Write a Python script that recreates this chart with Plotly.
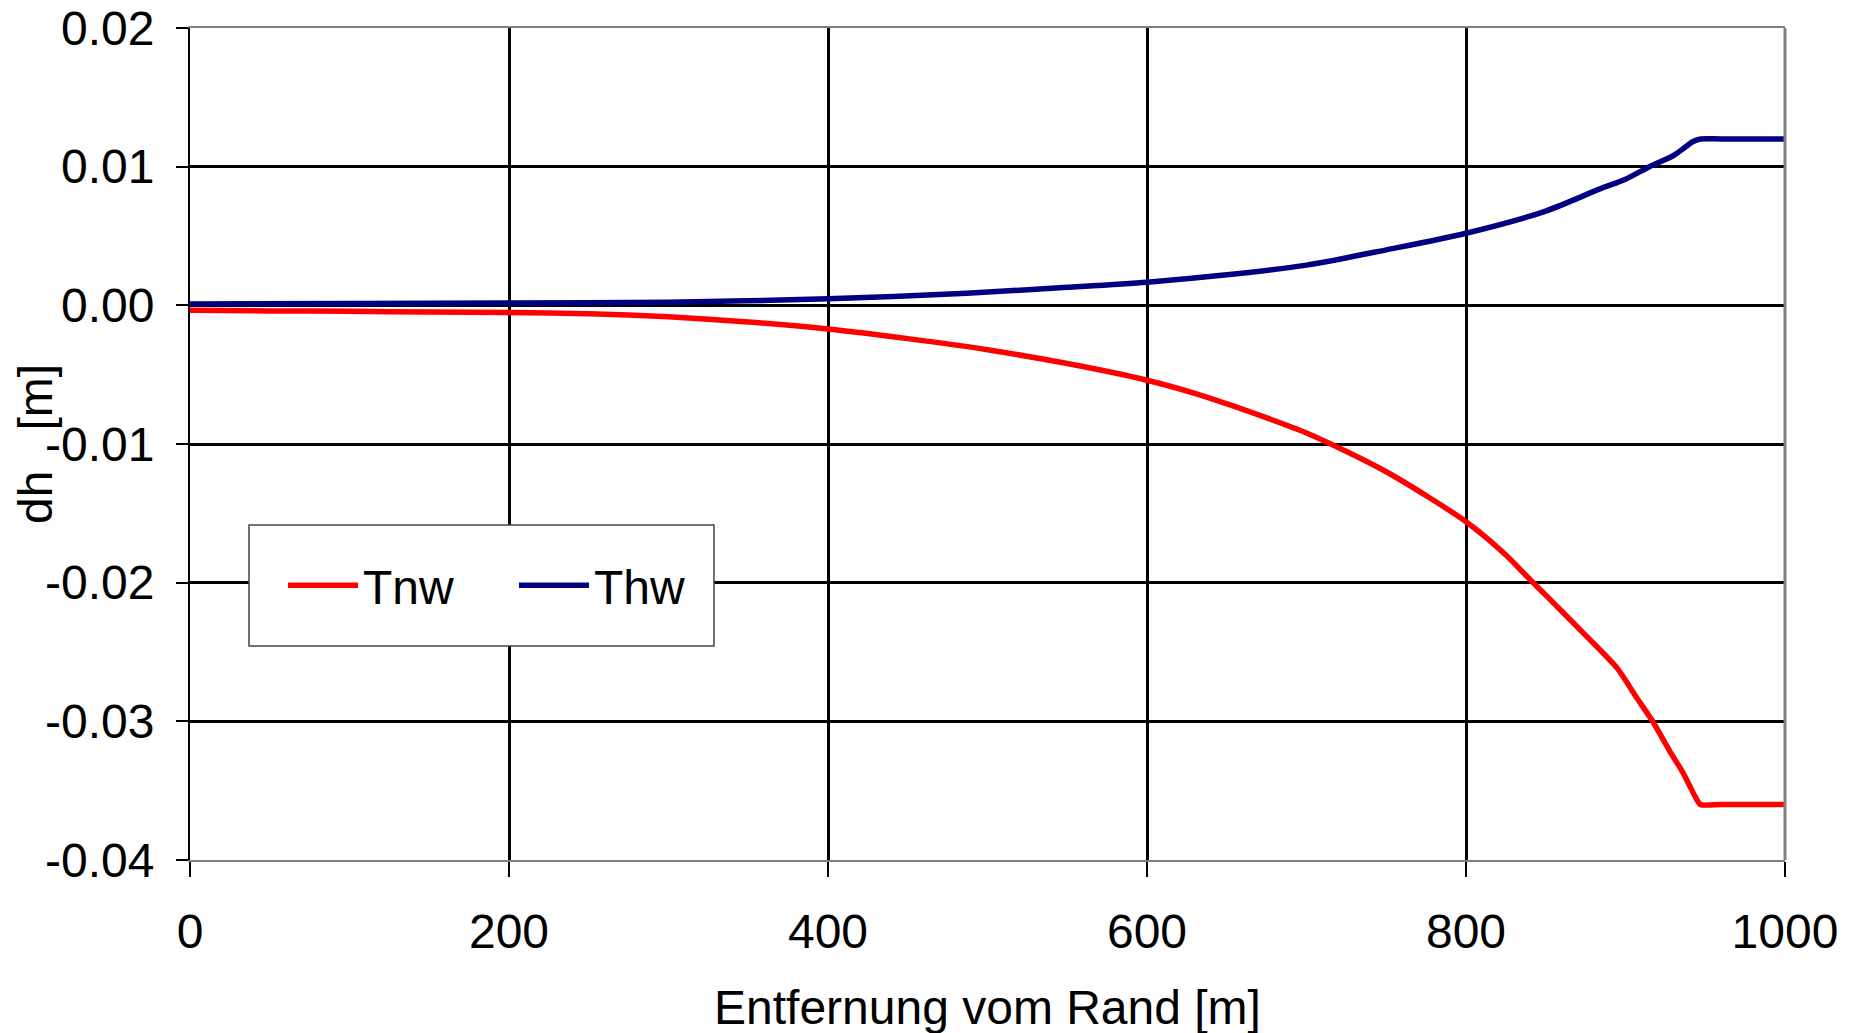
import plotly.graph_objects as go

# distance from edge [m]
x_tnw = [0, 50, 100, 150, 200, 250, 300, 350, 400, 450, 500, 550, 600, 633, 650, 700,
         750, 800, 825, 842, 850, 875, 895, 907, 917, 928, 936, 940, 944, 947, 960, 1000]
tnw = [-0.00035, -0.0004, -0.00043, -0.00048, -0.00052, -0.0006, -0.00083, -0.0012, -0.0017,
       -0.0024, -0.0032, -0.0042, -0.0054, -0.00645, -0.0071, -0.0092,
       -0.0120, -0.0156, -0.0180, -0.0200, -0.0209, -0.0238, -0.0262, -0.0283,
       -0.0300, -0.0322, -0.0337, -0.0346, -0.0355, -0.0360, -0.0360, -0.0360]

x_thw = [0, 100, 200, 300, 400, 487, 550, 600, 650, 700, 750, 800, 850, 884, 900, 915, 930,
         938, 942, 947, 960, 1000]
thw = [0.0001, 0.00013, 0.00016, 0.00022, 0.00047, 0.00088, 0.0013, 0.00167, 0.0022, 0.0029,
       0.0040, 0.0052, 0.0068, 0.0084, 0.0091, 0.0100, 0.0108, 0.01145, 0.0118, 0.0120,
       0.0120, 0.0120]

x_ticks = [0, 200, 400, 600, 800, 1000]
y_ticks = [-0.04, -0.03, -0.02, -0.01, 0.0, 0.01, 0.02]
y_tick_labels = ["-0.04", "-0.03", "-0.02", "-0.01", "0.00", "0.01", "0.02"]

FONT = "Liberation Sans, Arial, sans-serif"

fig = go.Figure()
fig.add_trace(go.Scatter(x=x_tnw, y=tnw, mode="lines", name="Tnw",
                         line=dict(color="#FF0000", width=5.5, shape="spline", smoothing=0.7)))
fig.add_trace(go.Scatter(x=x_thw, y=thw, mode="lines", name="Thw",
                         line=dict(color="#000080", width=5.5, shape="spline", smoothing=0.8)))

fig.update_layout(
    width=1852, height=1033,
    margin=dict(l=190, r=67, t=28, b=173, autoexpand=False),
    paper_bgcolor="white", plot_bgcolor="white",
    font=dict(family=FONT, size=48, color="black"),
    showlegend=True,
    legend=dict(
        orientation="h", x=0.0583, y=0.3299, xanchor="left", yanchor="middle",
        bgcolor="rgba(0,0,0,0)", borderwidth=0, itemwidth=70,
        font=dict(size=48), entrywidth=146, entrywidthmode="pixels",
    ),
    xaxis=dict(
        range=[0, 1000], tickvals=x_ticks, ticks="outside", ticklen=15, tickwidth=2,
        tickcolor="black", showgrid=True, gridcolor="black", gridwidth=2.5,
        showline=True, linecolor="#808080", linewidth=2, mirror=True,
        zeroline=False, ticklabelstandoff=13, automargin=False,
    ),
    yaxis=dict(
        range=[-0.04, 0.02], tickvals=y_ticks, ticktext=y_tick_labels, ticks="outside",
        ticklen=12, tickwidth=2, tickcolor="black", showgrid=True, gridcolor="black",
        gridwidth=2.5, showline=True, linecolor="black", linewidth=2, mirror=False,
        zeroline=False, ticklabelstandoff=12, automargin=False,
    ),
    shapes=[
        dict(type="line", xref="paper", yref="paper", x0=1, x1=1, y0=0, y1=1,
             line=dict(color="#808080", width=3)),
        dict(type="rect", xref="paper", yref="paper", x0=0.037, x1=0.3285, y0=0.2572,
             y1=0.4026, layer="above", fillcolor="white", line=dict(color="#444444", width=1.5)),
    ],
    annotations=[
        dict(text="Entfernung vom Rand [m]", xref="paper", yref="paper", x=0.5, y=-0.1767,
             xanchor="center", yanchor="middle", showarrow=False, font=dict(size=48)),
        dict(text="dh&nbsp;&nbsp; [m]", xref="paper", yref="paper", x=-0.0972, y=0.5,
             xanchor="center", yanchor="middle", textangle=-90, showarrow=False,
             font=dict(size=48)),
    ],
)

fig.write_html("out.html")
